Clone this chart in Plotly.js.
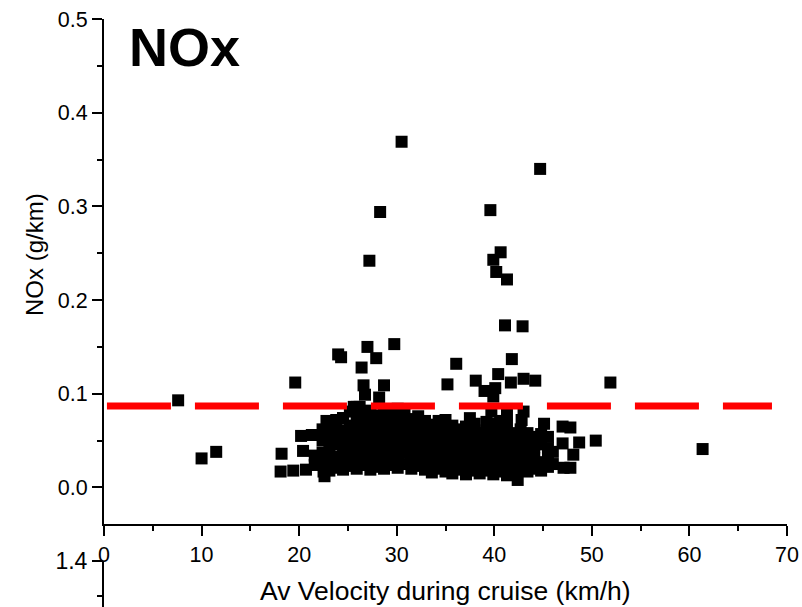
<!DOCTYPE html>
<html>
<head>
<meta charset="utf-8">
<script src="https://cdn.plot.ly/plotly-3.0.1.min.js"></script>
<style>
html,body{margin:0;padding:0;background:#fff;}
#chart{width:802px;height:607px;}
</style>
</head>
<body>
<div id="chart"></div>
<script>
// Average cruise velocity (km/h) for each trip
const velocity = [
  7.6, 10.0, 11.5, 18.1, 18.2, 19.4, 19.6, 20.2, 20.4, 20.7, 21.3, 22.8, 22.6,
  24.0, 24.3, 26.4, 26.6, 26.75, 27.0, 27.2, 27.9, 28.2, 28.3, 28.7, 29.75, 30.5, 26.2,
  35.2, 36.1, 38.1, 39.0, 39.6, 39.9, 40.1, 40.2, 40.4, 40.65, 41.1, 41.3, 41.7, 41.8, 42.9, 43.0, 44.2, 44.7, 39.9,
  39.7, 43.0, 42.8, 37.5, 38.0, 35.0, 45.1, 47.0, 47.8, 48.7, 50.4, 51.9, 61.35, 45.5,
  47.0, 48.1, 47.8, 47.1, 42.4, 22.5, 21.8, 23.5, 24.5, 25.6,
  21.6, 21.6,
  22.4, 22.4, 22.4, 22.4,
  23.1, 23.1, 23.1, 23.1, 23.1,
  23.8, 23.8, 23.8, 23.8, 23.8,
  24.5, 24.5, 24.5, 24.5, 24.5, 24.5,
  25.2, 25.2, 25.2, 25.2, 25.2, 25.2,
  25.9, 25.9, 25.9, 25.9, 25.9, 25.9, 25.9,
  26.6, 26.6, 26.6, 26.6, 26.6, 26.6,
  27.3, 27.3, 27.3, 27.3, 27.3, 27.3, 27.3,
  28.0, 28.0, 28.0, 28.0, 28.0, 28.0,
  28.7, 28.7, 28.7, 28.7, 28.7, 28.7, 28.7,
  29.4, 29.4, 29.4, 29.4, 29.4, 29.4,
  30.1, 30.1, 30.1, 30.1, 30.1, 30.1, 30.1,
  30.8, 30.8, 30.8, 30.8, 30.8, 30.8,
  31.5, 31.5, 31.5, 31.5, 31.5, 31.5,
  32.2, 32.2, 32.2, 32.2, 32.2, 32.2,
  32.9, 32.9, 32.9, 32.9, 32.9, 32.9,
  33.6, 33.6, 33.6, 33.6, 33.6, 33.6,
  34.3, 34.3, 34.3, 34.3, 34.3, 34.3,
  35.0, 35.0, 35.0, 35.0, 35.0,
  35.7, 35.7, 35.7, 35.7, 35.7, 35.7,
  36.4, 36.4, 36.4, 36.4, 36.4,
  37.1, 37.1, 37.1, 37.1, 37.1, 37.1,
  37.8, 37.8, 37.8, 37.8, 37.8,
  38.5, 38.5, 38.5, 38.5, 38.5,
  39.2, 39.2, 39.2, 39.2, 39.2, 39.2,
  39.9, 39.9, 39.9, 39.9, 39.9, 39.9,
  40.6, 40.6, 40.6, 40.6, 40.6, 40.6,
  41.3, 41.3, 41.3, 41.3, 41.3, 41.3, 41.3,
  42.0, 42.0, 42.0, 42.0, 42.0,
  42.7, 42.7, 42.7, 42.7, 42.7,
  43.4, 43.4, 43.4, 43.4, 43.4,
  44.1, 44.1, 44.1, 44.1,
  44.8, 44.8, 44.8, 44.8,
  45.5, 45.5, 45.5,
  46.0, 46.0
];
// NOx emission factor (g/km) for each trip
const nox = [
  0.093, 0.031, 0.038, 0.017, 0.036, 0.018, 0.112, 0.055, 0.039, 0.019, 0.056, 0.071, 0.012,
  0.142, 0.139, 0.128, 0.109, 0.099, 0.150, 0.242, 0.138, 0.096, 0.294, 0.109, 0.153, 0.369, 0.086,
  0.110, 0.132, 0.114, 0.103, 0.296, 0.243, 0.106, 0.230, 0.121, 0.251, 0.173, 0.222, 0.112, 0.137, 0.172, 0.116, 0.114, 0.340, 0.097,
  0.081, 0.081, 0.072, 0.074, 0.068, 0.072, 0.068, 0.065, 0.064, 0.048, 0.050, 0.112, 0.041, 0.054,
  0.047, 0.035, 0.021, 0.021, 0.008, 0.017, 0.033, 0.061, 0.074, 0.086,
  0.024, 0.034,
  0.025, 0.037, 0.050, 0.062,
  0.018, 0.029, 0.041, 0.052, 0.066,
  0.021, 0.033, 0.046, 0.057, 0.072,
  0.019, 0.028, 0.039, 0.050, 0.061, 0.074,
  0.023, 0.034, 0.044, 0.055, 0.066, 0.081,
  0.020, 0.030, 0.041, 0.052, 0.063, 0.074, 0.086,
  0.024, 0.036, 0.047, 0.058, 0.068, 0.079,
  0.019, 0.029, 0.040, 0.051, 0.062, 0.072, 0.082,
  0.022, 0.033, 0.044, 0.056, 0.066, 0.077,
  0.020, 0.030, 0.041, 0.050, 0.060, 0.071, 0.081,
  0.024, 0.035, 0.046, 0.057, 0.068, 0.078,
  0.021, 0.031, 0.042, 0.053, 0.063, 0.074, 0.084,
  0.025, 0.037, 0.048, 0.059, 0.070, 0.080,
  0.020, 0.030, 0.040, 0.051, 0.062, 0.073,
  0.023, 0.034, 0.045, 0.056, 0.066, 0.076,
  0.019, 0.029, 0.040, 0.051, 0.061, 0.071,
  0.016, 0.026, 0.037, 0.048, 0.058, 0.067,
  0.020, 0.031, 0.042, 0.053, 0.063, 0.071,
  0.017, 0.028, 0.038, 0.049, 0.060,
  0.015, 0.025, 0.035, 0.046, 0.057, 0.066,
  0.019, 0.030, 0.041, 0.052, 0.062,
  0.014, 0.024, 0.035, 0.046, 0.057, 0.065,
  0.018, 0.029, 0.040, 0.051, 0.060,
  0.015, 0.026, 0.037, 0.048, 0.058,
  0.018, 0.029, 0.040, 0.051, 0.061, 0.070,
  0.014, 0.024, 0.035, 0.046, 0.057, 0.068,
  0.017, 0.028, 0.039, 0.050, 0.060, 0.071,
  0.013, 0.023, 0.034, 0.045, 0.056, 0.066, 0.078,
  0.016, 0.027, 0.038, 0.049, 0.058,
  0.019, 0.030, 0.041, 0.052, 0.062,
  0.017, 0.027, 0.038, 0.049, 0.058,
  0.020, 0.031, 0.043, 0.054,
  0.018, 0.027, 0.046, 0.057,
  0.022, 0.033, 0.042,
  0.025, 0.038
];
// Reference limit line (g/km)
const limitX = [0.3, 68.46];
const limitY = [0.087, 0.087];
// Axis ticks
const xTicks = [0, 10, 20, 30, 40, 50, 60, 70];
const yTicks = [0.0, 0.1, 0.2, 0.3, 0.4, 0.5];
const lowerTicks = [1.4];

const FONT = "Liberation Sans, Arial, Helvetica, sans-serif";
const W = 802, H = 607;
const L = 104, R = 787, T = 19, B = 524;

const traces = [
  {
    type: 'scatter', mode: 'markers', x: velocity, y: nox,
    marker: {symbol: 'square', size: 12, color: '#000', line: {width: 0}},
    xaxis: 'x', yaxis: 'y', hoverinfo: 'x+y'
  },
  {
    type: 'scatter', mode: 'lines', x: limitX, y: limitY,
    line: {color: '#ff0000', width: 7, dash: '64px,24px'},
    xaxis: 'x', yaxis: 'y'
  },
  {
    type: 'scatter', mode: 'markers', x: [], y: [],
    xaxis: 'x2', yaxis: 'y2'
  }
];

const axisCommon = {
  showline: true, linecolor: '#000', linewidth: 2,
  ticks: 'outside', ticklen: 10, tickwidth: 2, tickcolor: '#000',
  showgrid: false, zeroline: false,
  tickfont: {family: FONT, size: 21.5, color: '#000'}
};

const layout = {
  width: W, height: H,
  margin: {l: 0, r: 0, t: 0, b: 0},
  paper_bgcolor: '#fff', plot_bgcolor: 'rgba(0,0,0,0)',
  showlegend: false,
  font: {family: FONT, color: '#000'},
  xaxis: Object.assign({}, axisCommon, {
    domain: [L / W, R / W], range: [0, 70], anchor: 'y',
    tickmode: 'array', tickvals: xTicks, ticktext: xTicks.map(String),
    minor: {ticks: 'outside', ticklen: 5, tickwidth: 2, tickcolor: '#000', dtick: 5, tick0: 0, showgrid: false}
  }),
  yaxis: Object.assign({}, axisCommon, {
    domain: [(H - B) / H, (H - T) / H], range: [-0.039, 0.5], anchor: 'x',
    tickmode: 'array', tickvals: yTicks, ticktext: yTicks.map(v => v.toFixed(1)),
    minor: {ticks: 'outside', ticklen: 5, tickwidth: 2, tickcolor: '#000', dtick: 0.05, tick0: 0, showgrid: false}
  }),
  xaxis2: {domain: [L / W, R / W], anchor: 'y2', visible: false, range: [0, 70]},
  yaxis2: Object.assign({}, axisCommon, {
    domain: [0, (H - 561) / H], range: [1.2686, 1.4005], anchor: 'x2',
    tickmode: 'array', tickvals: lowerTicks, ticktext: lowerTicks.map(v => v.toFixed(1)),
    tickfont: {family: FONT, size: 23, color: '#000'},
    minor: {ticks: 'outside', ticklen: 5, tickwidth: 2, tickcolor: '#000', dtick: 0.1, tick0: 0, showgrid: false}
  }),
  annotations: [
    {text: '<b>NOx</b>', xref: 'paper', yref: 'paper', x: 127 / W, y: 1 - 47 / H,
     xanchor: 'left', yanchor: 'middle', showarrow: false,
     font: {family: FONT, size: 54, color: '#000'}},
    {text: 'NOx (g/km)', xref: 'paper', yref: 'paper', x: 35 / W, y: 1 - 255 / H,
     xanchor: 'center', yanchor: 'middle', textangle: -90, showarrow: false,
     font: {family: FONT, size: 24, color: '#000'}},
    {text: 'Av Velocity during cruise (km/h)', xref: 'paper', yref: 'paper', x: 445 / W, y: 1 - 591 / H,
     xanchor: 'center', yanchor: 'middle', showarrow: false,
     font: {family: FONT, size: 26.5, color: '#000'}}
  ]
};

Plotly.newPlot('chart', traces, layout, {staticPlot: true, displayModeBar: false});
</script>
</body>
</html>
